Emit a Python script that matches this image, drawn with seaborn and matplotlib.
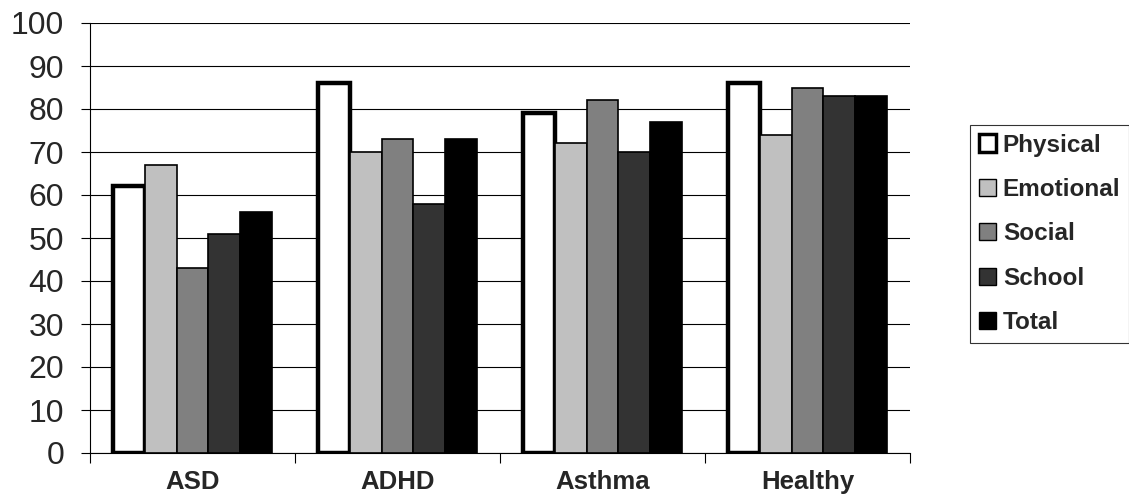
import matplotlib
matplotlib.use("Agg")
import matplotlib.pyplot as plt
import seaborn as sns
import pandas as pd
import numpy as np
from matplotlib.ticker import FixedLocator

groups = ["ASD", "ADHD", "Asthma", "Healthy"]
domains = ["Physical", "Emotional", "Social", "School", "Total"]
physical = [62, 86, 79, 86]
emotional = [67, 70, 72, 74]
social = [43, 73, 82, 85]
school = [51, 58, 70, 83]
total = [56, 73, 77, 83]
colors = ["#ffffff", "#c0c0c0", "#808080", "#333333", "#000000"]
yticks = [0, 10, 20, 30, 40, 50, 60, 70, 80, 90, 100]

rows = []
for d, vals in zip(domains, [physical, emotional, social, school, total]):
    for g, v in zip(groups, vals):
        rows.append({"group": g, "domain": d, "value": v})
df = pd.DataFrame(rows)

sns.set_style("white")
plt.rcParams["font.family"] = ["Liberation Sans", "DejaVu Sans"]

fig = plt.figure(figsize=(11.29, 4.96), dpi=100)
ax = fig.add_axes([90/1129, 1 - 453/496, 820/1129, 430/496])

sns.barplot(data=df, x="group", y="value", hue="domain", order=groups,
            hue_order=domains, palette=colors, width=0.78, ax=ax,
            edgecolor="black", linewidth=1.2, saturation=1, zorder=3,
            legend=True)

for i, cont in enumerate(ax.containers):
    for p in cont.patches:
        p.set_edgecolor("black")
        p.set_linewidth(3.2 if i == 0 else 1.2)
        p.set_zorder(3)

ax.set_ylim(0, 100)
ax.set_xlim(-0.5, 3.5)
ax.set_yticks(yticks)
ax.set_yticklabels([str(t) for t in yticks], fontsize=23)
ax.yaxis.grid(True, color="black", linewidth=0.8, zorder=0)
ax.xaxis.grid(False)
ax.set_axisbelow(True)
ax.tick_params(axis="y", which="major", length=6.5, width=0.8, color="black",
               direction="out", left=True, pad=12)
ax.tick_params(axis="x", which="major", length=0, pad=12)
ax.xaxis.set_minor_locator(FixedLocator([-0.5, 0.5, 1.5, 2.5, 3.5]))
ax.tick_params(axis="x", which="minor", length=7, width=0.8, color="black",
               direction="out", bottom=True)
for lbl in ax.get_xticklabels():
    lbl.set_fontsize(18.5)
    lbl.set_fontweight("bold")
ax.set_xlabel("")
ax.set_ylabel("")
for s in ["top", "right"]:
    ax.spines[s].set_visible(False)
for s in ["left", "bottom"]:
    ax.spines[s].set_color("black")
    ax.spines[s].set_linewidth(0.8)

handles, labels = ax.get_legend_handles_labels()
if ax.get_legend() is not None:
    ax.get_legend().remove()
for i, h in enumerate(handles):
    h.set_edgecolor("black")
    h.set_linewidth(2.5 if i == 0 else 1.0)
leg = fig.legend(handles, labels, loc="upper left",
                 bbox_to_anchor=(970/1129, 1 - 125/496),
                 bbox_transform=fig.transFigure, borderaxespad=0,
                 frameon=True, fancybox=False, edgecolor="black",
                 prop={"size": 17.5, "weight": "bold"},
                 handlelength=0.7, handleheight=0.7, handletextpad=0.3,
                 labelspacing=0.88, borderpad=0.35)
leg.get_frame().set_linewidth(0.8)

fig.savefig("out.png", dpi=100)
